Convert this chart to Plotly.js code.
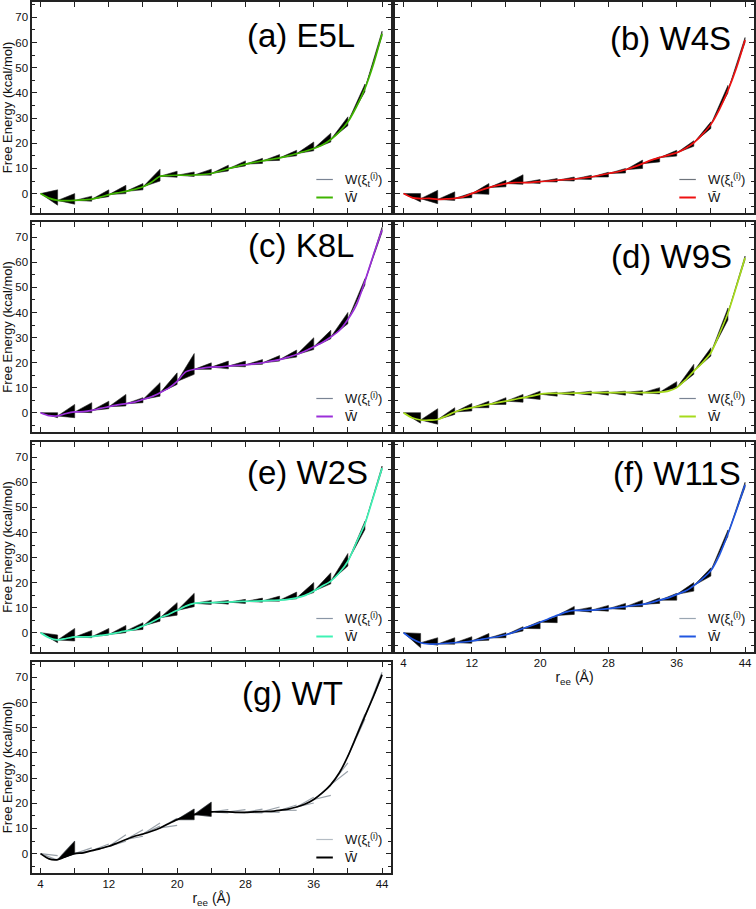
<!DOCTYPE html>
<html><head><meta charset="utf-8">
<script src="https://cdn.plot.ly/plotly-3.0.1.min.js"></script>
<style>html,body{margin:0;padding:0;background:#fff}</style>
</head><body><div id="chart" style="width:756px;height:909px"></div>
<script>
// r_ee grid (Å)
const rGrid = [4,5,6,7,8,9,10,11,12,13,14,15,16,17,18,19,20,21,22,23,24,25,26,27,28,29,30,31,32,33,34,35,36,37,38,39,40,41,42,43,44];
// pulling stages
const stageStart = [4,6,8,10,12,14,16,18,20,22,24,26,28,30,32,34,36,38,40,42];
const stageEnd   = [6,8,10,12,14,16,18,20,22,24,26,28,30,32,34,36,38,40,42,44];

// (a) E5L
const meanE5L = [0,-1.8,-2.7,-2.8,-2.7,-2.5,-2.2,-1.4,-0.4,0.3,0.9,1.7,2.7,4.5,6.9,7.2,7.3,7.3,7.4,7.6,8.0,8.9,9.9,10.8,11.7,12.4,13.0,13.6,14.2,15.0,15.9,16.8,17.9,19.3,21.5,24.5,28.5,34.5,41.8,51.5,63.5];
const topE5L  = [1.5,0.0,-1.0,1.5,3.3,4.0,9.7,8.9,8.6,9.7,11.3,13.0,14.0,15.5,17.2,20.5,24.0,30.5,43.5,64.5];
const botE5L  = [-4.6,-4.2,-3.0,-1.2,0.0,1.5,5.0,6.5,6.8,7.3,9.0,11.0,12.0,13.2,15.0,17.0,20.5,27.0,40.5,62.5];
// (b) W4S
const meanW4S = [0,-1.6,-2.0,-1.9,-2.3,-2.1,-1.9,-1.3,0,1.3,2.4,3.3,4.0,4.4,4.4,4.5,4.8,5.0,5.3,5.6,5.8,6.2,6.6,7.3,8.0,8.6,9.5,10.6,11.9,13.3,14.3,15.3,16.2,17.9,20.2,23.5,27.5,33.5,41.0,50.0,61.0];
const topW4S  = [0.0,1.3,0.7,0.3,4.0,5.3,7.5,5.6,6.0,6.6,7.3,8.5,10.0,13.3,14.6,17.2,21.0,28.5,43.0,62.0];
const botW4S  = [-3.3,-4.0,-2.7,-1.6,-0.3,2.7,3.7,4.0,4.6,5.0,5.6,6.6,8.2,10.0,12.6,14.9,18.8,25.9,40.0,60.0];
// (c) K8L
const meanK8L = [0,-1.2,-1.3,-0.3,0.3,0.4,0.9,1.7,2.4,3.1,3.6,4.2,5.3,6.4,8.0,9.8,12.5,16.3,17.3,17.8,18.2,18.3,18.6,18.9,19.1,19.5,19.9,20.6,21.2,22.2,23.2,24.6,26.3,28.0,30.2,32.8,37.2,43.0,52.5,63.0,73.0];
const topK8L  = [0.0,3.3,4.0,4.6,7.3,6.0,12.0,15.9,23.6,19.9,20.6,20.6,21.2,22.8,25.0,29.9,32.9,40.0,53.5,74.0];
const botK8L  = [-2.0,-2.0,0.0,1.6,2.7,4.0,6.6,11.3,15.3,17.3,17.5,18.3,19.3,20.6,22.2,25.2,29.5,35.5,51.0,72.0];
// (d) W9S
const meanW9S = [0,-2.0,-2.9,-3.0,-2.7,-1.3,0.3,1.3,2.0,2.7,3.3,4.0,4.6,5.3,6.0,6.6,7.4,7.7,7.7,7.7,7.8,7.8,8.0,8.0,8.0,8.0,8.1,8.0,8.0,8.0,8.2,8.6,10.0,13.0,16.6,19.9,23.9,31.5,39.8,50.5,61.8];
const topW9S  = [0.0,1.6,2.0,3.7,4.6,6.0,7.3,8.6,8.2,8.5,8.6,8.6,8.6,8.8,10.0,12.4,19.3,25.9,41.8,62.5];
const botW9S  = [-4.2,-4.6,-0.7,0.7,2.0,3.3,4.2,5.3,6.6,6.9,7.0,7.0,7.0,7.0,7.5,10.0,15.3,22.6,37.0,61.0];
// (e) W2S
const meanW2S = [0,-2.0,-2.9,-2.3,-1.7,-1.7,-1.6,-1.1,-0.7,0,0.7,1.3,2.7,4.2,6.0,7.3,8.9,10.6,11.7,12.0,12.0,12.1,12.2,12.4,12.5,12.6,12.7,12.9,13.0,13.3,13.9,14.9,16.6,18.6,20.6,23.9,28.5,36.0,43.5,54.4,65.7];
const topW2S  = [-0.9,1.7,0.9,1.7,2.9,4.0,8.6,12.0,15.7,12.9,12.9,13.3,13.8,14.6,16.2,20.0,23.9,31.6,44.5,66.5];
const botW2S  = [-4.0,-3.3,-2.0,-0.9,0.0,1.3,4.6,7.0,10.4,11.3,11.4,11.7,12.2,12.6,13.5,16.0,19.5,26.6,41.2,65.0];
// (f) W11S
const meanW11S = [0,-2.4,-4.0,-4.5,-4.5,-4.2,-4.0,-3.7,-3.3,-2.7,-2.1,-1.6,-0.8,0.3,1.7,2.9,4.2,5.6,6.9,8.2,8.9,8.9,9.0,9.3,9.6,10.0,10.4,10.9,11.3,12.0,13.0,13.9,15.3,16.6,18.8,21.5,24.8,31.0,39.5,49.0,59.0];
const topW11S  = [-0.3,-2.0,-2.0,-1.6,-0.3,0.0,2.4,4.6,6.6,10.5,10.2,10.9,11.7,13.0,13.9,15.7,20.0,25.9,41.0,60.0];
const botW11S  = [-6.0,-5.0,-4.6,-4.2,-3.0,-2.0,0.7,1.6,4.0,7.3,8.2,8.6,9.3,10.4,11.7,13.0,16.6,22.6,38.5,58.0];
// (g) WT
const meanWT = [0,-2.1,-2.4,-1.1,0,0.3,1.2,2.0,2.9,4.2,5.6,6.9,7.8,8.9,10.2,11.9,13.5,14.8,15.5,16.2,16.6,16.6,16.6,16.4,16.4,16.6,16.7,16.8,17.2,17.7,18.5,19.7,21.5,24.1,27.4,32.1,38.7,46.6,54.6,62.5,71.1];
const topWT  = [-0.8,4.9,2.3,3.8,7.5,9.5,12.2,14.0,17.7,20.4,17.5,17.5,17.7,18.5,19.3,22.4,27.0,36.0,55.5,72.0];
const botWT  = [-2.6,0.0,1.2,2.9,4.9,6.9,10.9,11.2,13.5,14.8,16.2,16.2,16.2,16.4,17.2,20.1,23.1,32.7,53.5,70.5];

const panelLabels = ['(a) E5L','(b) W4S','(c) K8L','(d) W9S','(e) W2S','(f) W11S','(g) WT'];
const legendTraj = 'W(ξ<sub>t</sub><sup>(i)</sup>)';
const legendMean = 'W\u0304';
const xTickVals = [4,12,20,28,36,44];
const yTickVals = [0,10,20,30,40,50,60,70];

const seriesData = [
  [meanE5L, topE5L, botE5L],
  [meanW4S, topW4S, botW4S],
  [meanK8L, topK8L, botK8L],
  [meanW9S, topW9S, botW9S],
  [meanW2S, topW2S, botW2S],
  [meanW11S, topW11S, botW11S],
  [meanWT, topWT, botWT]
];

// ---- styling ----
const meanColors = ['#3fb400','#ee1111','#9b2fd9','#a6db1c','#3ff2b4','#2156e0','#000000'];
const trajLegendColors = ['#7a8494','#6e747c','#7a8494','#7a8494','#8a96a6','#9aa6b2','#b4bcc4'];
const labelPos = [[0.905,33.3],[0.9415,36.3],[0.9025,23],[0.9435,34],[0.9415,30.5],[0.9685,32],[0.872,31]];
const W = 756, H = 909;
const colPx = [[32,391],[395,754]];
const rowPx = [[2,213],[222,432],[442,652],[662,873]];
const FONT = 'Liberation Sans, Arial, Helvetica, sans-serif';

const traces = [];
const layout = {
  width: W, height: H, margin:{l:0,r:0,t:0,b:0},
  paper_bgcolor:'#fff', plot_bgcolor:'#fff', showlegend:false,
  font:{family:FONT, color:'#111'},
  annotations:[], shapes:[]
};

for (let p = 0; p < 7; p++) {
  const s = p === 0 ? '' : String(p+1);
  const col = p % 2, row = Math.floor(p/2);
  const [mean, top, bot] = seriesData[p];
  const frameH = rowPx[row][1] - rowPx[row][0];
  // wedges (bundles of individual work trajectories per stage)
  const wx = [], wy = [], gx = [], gy = [];
  for (let i = 0; i < stageStart.length; i++) {
    const x0 = stageStart[i], x1 = stageEnd[i];
    const y0 = mean[rGrid.indexOf(x0)];
    const dense = p < 6 || (top[i] - bot[i]) >= 4;
    if (dense) { wx.push(x0,x1,x1,x0,null); wy.push(y0,top[i],bot[i],y0,null); }
    if (p === 6) { gx.push(x0,x1,null,x0,x1,null); gy.push(y0,top[i],null,y0,bot[i],null); }
  }
  if (p === 6) {
    traces.push({x:gx, y:gy, xaxis:'x'+s, yaxis:'y'+s, mode:'lines', type:'scatter',
      line:{color:'#9aa2aa', width:1.2}, hoverinfo:'skip'});
  }
  traces.push({x:wx, y:wy, xaxis:'x'+s, yaxis:'y'+s, mode:'lines', type:'scatter',
    fill:'toself', fillcolor:'#000', line:{color:'#222', width:0.6}, hoverinfo:'skip'});
  traces.push({x:rGrid, y:mean, xaxis:'x'+s, yaxis:'y'+s, mode:'lines', type:'scatter',
    line:{color:meanColors[p], width:1.7, shape:'spline', smoothing:0.7}});

  const showX = (p === 5 || p === 6);
  layout['xaxis'+s] = {
    domain:[colPx[col][0]/W, colPx[col][1]/W], anchor:'y'+s, range:[3,45.05],
    tickmode:'array', tickvals:xTickVals, ticktext:xTickVals.map(String),
    ticks:'inside', ticklen:5, tickwidth:1, tickcolor:'#222',
    minor:{tickmode:'linear', tick0:4, dtick:4, ticks:'inside', ticklen:5, tickwidth:1, tickcolor:'#222'},
    showline:true, linecolor:'#222', linewidth:1.6, mirror:'allticks',
    showgrid:false, zeroline:false, showticklabels:showX,
    tickfont:{size:11.5, family:FONT, color:'#111'}
  };
  if (showX) layout['xaxis'+s].title = {text:'r<sub>ee</sub> (Å)', font:{size:14, family:FONT, color:'#111'}, standoff:4};
  layout['yaxis'+s] = {
    domain:[1-rowPx[row][1]/H, 1-rowPx[row][0]/H], anchor:'x'+s, range:[-7.7,76.1],
    tickmode:'array', tickvals:yTickVals, ticktext:yTickVals.map(String),
    ticks:'inside', ticklen:5, tickwidth:1, tickcolor:'#222',
    minor:{tickmode:'linear', tick0:0, dtick:5, ticks:'inside', ticklen:3, tickwidth:1, tickcolor:'#222'},
    showline:true, linecolor:'#222', linewidth:1.6, mirror:'allticks',
    showgrid:false, zeroline:false, showticklabels:(col===0),
    tickfont:{size:11.5, family:FONT, color:'#111'}
  };
  if (col === 0) layout['yaxis'+s].title = {text:'Free Energy (kcal/mol)', font:{size:13, family:FONT, color:'#111'}, standoff:1};

  // panel label
  layout.annotations.push({xref:'x'+s+' domain', yref:'y'+s+' domain',
    x:labelPos[p][0], y:1-labelPos[p][1]/frameH, xanchor:'right', yanchor:'middle',
    text:panelLabels[p], showarrow:false, font:{size:33, family:FONT, color:'#000'}});
  // legend
  const yL1 = 33.5/frameH, yL2 = 15.5/frameH;
  layout.shapes.push({type:'line', xref:'x'+s+' domain', yref:'y'+s+' domain',
    x0:0.792, x1:0.838, y0:yL1, y1:yL1, line:{color:trajLegendColors[p], width:1.2}});
  layout.shapes.push({type:'line', xref:'x'+s+' domain', yref:'y'+s+' domain',
    x0:0.792, x1:0.838, y0:yL2, y1:yL2, line:{color:meanColors[p], width:2}});
  layout.annotations.push({xref:'x'+s+' domain', yref:'y'+s+' domain',
    x:0.866, y:yL1, xanchor:'left', yanchor:'middle', text:legendTraj, showarrow:false,
    font:{size:13, family:FONT, color:'#111'}});
  layout.annotations.push({xref:'x'+s+' domain', yref:'y'+s+' domain',
    x:0.866, y:yL2, xanchor:'left', yanchor:'middle', text:legendMean, showarrow:false,
    font:{size:13, family:FONT, color:'#111'}});
}

Plotly.newPlot('chart', traces, layout, {staticPlot:true, displayModeBar:false});
</script>
</body></html>
